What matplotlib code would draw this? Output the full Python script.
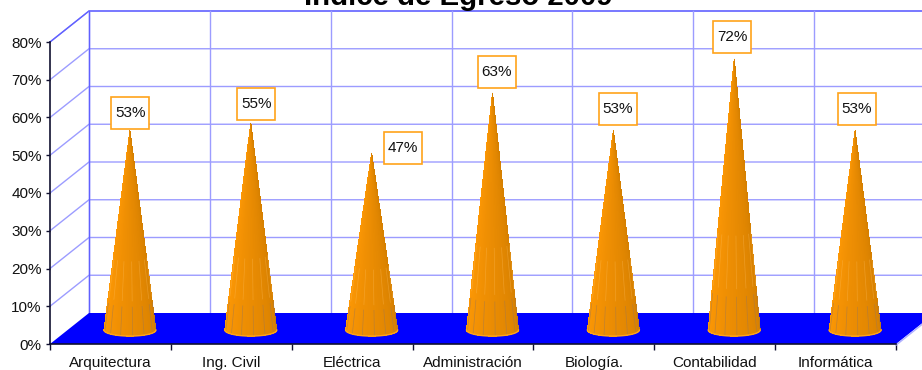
import numpy as np
from matplotlib import pyplot as plt
from matplotlib.patches import Polygon, Rectangle
from matplotlib.transforms import IdentityTransform

carreras = ['Arquitectura', 'Ing. Civil', 'Eléctrica', 'Administración', 'Biología.', 'Contabilidad', 'Informática']
egreso = [53, 55, 47, 63, 53, 72, 53]
etiquetas = ['53%', '55%', '47%', '63%', '53%', '72%', '53%']
yticks = [0, 10, 20, 30, 40, 50, 60, 70, 80]

plt.rcParams['font.family'] = ['Liberation Sans', 'DejaVu Sans']

W, H = 922, 370
fig = plt.figure(figsize=(W / 100, H / 100), dpi=100)
ax = fig.add_axes([50 / W, (H - 344) / H, 846 / W, 302 / H])
ax.set_xlim(-0.5, 6.5)
ax.set_ylim(0, 80)
ax.patch.set_alpha(0)

# profundidad del grafico 3D, en unidades de los ejes
dx = 39 / (846 / 7)
dy = 31 / (302 / 80)
grid = '#9c9cff'

# piso azul
ax.add_patch(Polygon([(-0.5, 0), (-0.5 + dx, dy), (6.5 + dx, dy), (6.5, 0)], closed=True,
                     fc='#0000ff', ec='none', clip_on=False, zorder=1))
ax.plot([6.5, 6.5 + dx], [-0.3, dy - 0.3], color='#b0b0ff', lw=1, clip_on=False, zorder=2)

# pared del fondo
for v in yticks[1:]:
    ax.plot([-0.5, -0.5 + dx, 6.5 + dx], [v, v + dy, v + dy], color=grid, lw=1, clip_on=False, zorder=0)
ax.plot([-0.5, -0.5 + dx, 6.5 + dx], [80, 80 + dy, 80 + dy], color='#6060ff', lw=1, clip_on=False, zorder=0)
for i in range(8):
    ax.plot([i - 0.5 + dx] * 2, [dy, 80 + dy], color=grid, lw=1, clip_on=False, zorder=0)
ax.plot([-0.5 + dx] * 2, [dy, 80 + dy], color='#6060ff', lw=1, clip_on=False, zorder=0)

# conos
dz = 3.7
rx = 26 / (846 / 7)
rz = 1.6
n = 60
for i, val in enumerate(egreso):
    cx = i + dx / 2
    tip = val + dz
    th = np.linspace(np.pi, 2 * np.pi, n + 1)
    bx = cx + rx * np.cos(th)
    by = dz + rz * np.sin(th)
    # silueta suavizada debajo, gajos sin antialias encima para evitar costuras
    ax.add_patch(Polygon([(cx, tip)] + list(zip(bx, by)), closed=True, fc='#ee9000', ec='none',
                         clip_on=False, zorder=2))
    for k in range(n):
        f = k / (n - 1)
        c = np.array([1.0, 0.60, 0.02]) * (1 - f) + np.array([0.84, 0.50, 0.0]) * f
        ax.add_patch(Polygon([(cx, tip), (bx[k], by[k]), (bx[k + 1], by[k + 1])], closed=True,
                             fc=c, ec='none', antialiased=False, clip_on=False, zorder=2))
    # rayas claras arriba, grises cerca de la base
    for k in range(5, n, 9):
        x0, y0 = bx[k], by[k]
        ax.plot([x0 + (cx - x0) * 0.17, x0 + (cx - x0) * 0.36], [y0 + (tip - y0) * 0.17, y0 + (tip - y0) * 0.36],
                color='#ffc266', lw=0.5, alpha=0.35, clip_on=False, zorder=3)
        ax.plot([x0, x0 + (cx - x0) * 0.14], [y0, y0 + (tip - y0) * 0.14],
                color='#a07850', lw=0.5, alpha=0.6, clip_on=False, zorder=3)
    ax.plot(bx, by, color='#ffa31a', lw=1, clip_on=False, zorder=3)

# etiquetas de datos, desplazadas desde la punta del cono (en pixeles)
despl = [(0.5, 16.5), (5.7, 18.4), (31.6, 4.3), (4.4, 20.2), (4.6, 20.5), (-2, 20.9), (1.5, 20.5)]
fig.canvas.draw()
for i, val in enumerate(egreso):
    ox, oy = despl[i]
    px, py = ax.transData.transform((i + dx / 2, val + dz))
    ax.add_patch(Rectangle((px + ox - 19, py + oy - 16), 38, 32, transform=IdentityTransform(),
                           fc='white', ec='#ffa31a', lw=1.2, clip_on=False, zorder=5))
    ax.annotate(etiquetas[i], (i + dx / 2, val + dz), xytext=(ox * 0.72, oy * 0.72),
                textcoords='offset points', ha='center', va='center', fontsize=11, color='#111111',
                annotation_clip=False, zorder=6)

# ejes
for s in ['top', 'right']:
    ax.spines[s].set_visible(False)
for s in ['left', 'bottom']:
    ax.spines[s].set_color('#101030')
    ax.spines[s].set_linewidth(1.2)
    ax.spines[s].set_zorder(4)
ax.set_yticks(yticks)
ax.set_yticklabels([f'{v}%' for v in yticks], fontsize=11, color='#111111')
ax.set_xticks(np.arange(-0.5, 7, 1))
ax.set_xticklabels([])
ax.set_xticks(np.arange(7), carreras, minor=True, fontsize=11, color='#111111', va='baseline')
ax.tick_params(axis='x', which='minor', length=0, pad=16.5)
ax.tick_params(axis='x', which='major', length=4, width=1, color='#101030')
ax.tick_params(axis='y', length=3, width=1, color='#101030', pad=3)

fig.text(458 / W, (H - 5) / H, 'Indice de Egreso 2009', ha='center', va='baseline',
         fontsize=21.2, fontweight='bold', color='black')

fig.savefig('out.png', dpi=100)
